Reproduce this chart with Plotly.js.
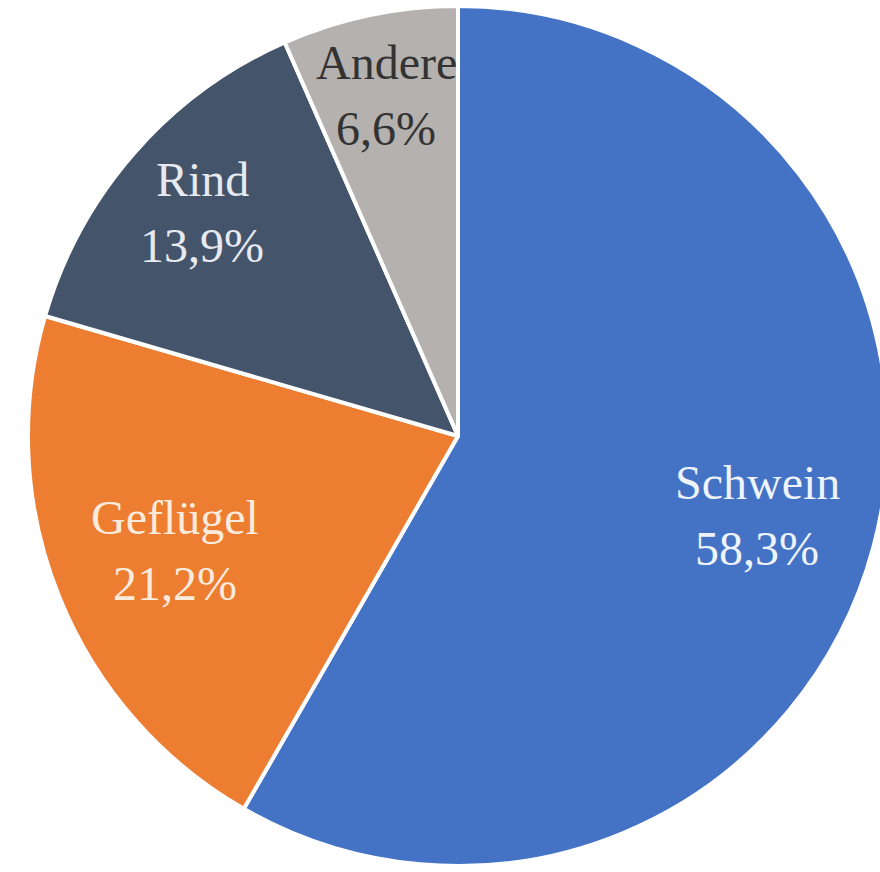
<!DOCTYPE html>
<html>
<head>
<meta charset="utf-8">
<script src="https://cdn.plot.ly/plotly-3.0.1.min.js"></script>
<style>
html,body{margin:0;padding:0;overflow:hidden;background:#fff;}
#chart{width:890px;height:872px;}
</style>
</head>
<body>
<div id="chart"></div>
<script>
// ---- data ----
const categories = ["Schwein", "Geflügel", "Rind", "Andere"];
const shares = [58.3, 21.2, 13.9, 6.6];

// ---- styles ----
const colors = ["#4472C4", "#ED7D31", "#44546A", "#B4B1AF"];
const textColors = ["#EEF3FC", "#FBEBDD", "#E6EAF0", "#333333"];
const labelRadius = [0.72, 0.71, 0.79, 0.81]; // fraction of pie radius
const W = 890, H = 872;
const dom = {x: [28/W, 888/W], y: [5/H, 867/H]};
const fontFamily = "Liberation Serif, Times New Roman, serif";
const fontSize = 48;
const lineGap = 66;

const trace = {
  type: "pie",
  labels: categories,
  values: shares,
  sort: false,
  direction: "clockwise",
  rotation: 0,
  marker: {colors: colors, line: {color: "#FFFFFF", width: 4}},
  textinfo: "none",
  hoverinfo: "label+percent",
  domain: dom
};

// label positions derived from the slice mid-angles
const cx = (dom.x[0] + dom.x[1]) / 2 * W;
const cyFromBottom = (dom.y[0] + dom.y[1]) / 2 * H;
const R = Math.min((dom.x[1]-dom.x[0]) * W, (dom.y[1]-dom.y[0]) * H) / 2;
const total = shares.reduce((a, b) => a + b, 0);
const annotations = [];
let cum = 0;
shares.forEach((v, i) => {
  const mid = (cum + v / 2) / total * 2 * Math.PI;
  cum += v;
  const r = R * labelRadius[i];
  const px = cx + r * Math.sin(mid);
  const py = cyFromBottom + r * Math.cos(mid);
  const pct = v.toFixed(1).replace(".", ",") + "%";
  const common = {
    xref: "paper", yref: "paper", x: px / W, y: py / H,
    xanchor: "center", yanchor: "middle", showarrow: false,
    font: {family: fontFamily, size: fontSize, color: textColors[i]}
  };
  annotations.push(Object.assign({}, common, {text: categories[i], yshift: lineGap / 2}));
  annotations.push(Object.assign({}, common, {text: pct, yshift: -lineGap / 2}));
});

const layout = {
  width: W,
  height: H,
  margin: {l: 0, r: 0, t: 0, b: 0},
  showlegend: false,
  separators: ",.",
  paper_bgcolor: "#FFFFFF",
  annotations: annotations
};

Plotly.newPlot("chart", [trace], layout, {displayModeBar: false, staticPlot: true});
</script>
</body>
</html>
